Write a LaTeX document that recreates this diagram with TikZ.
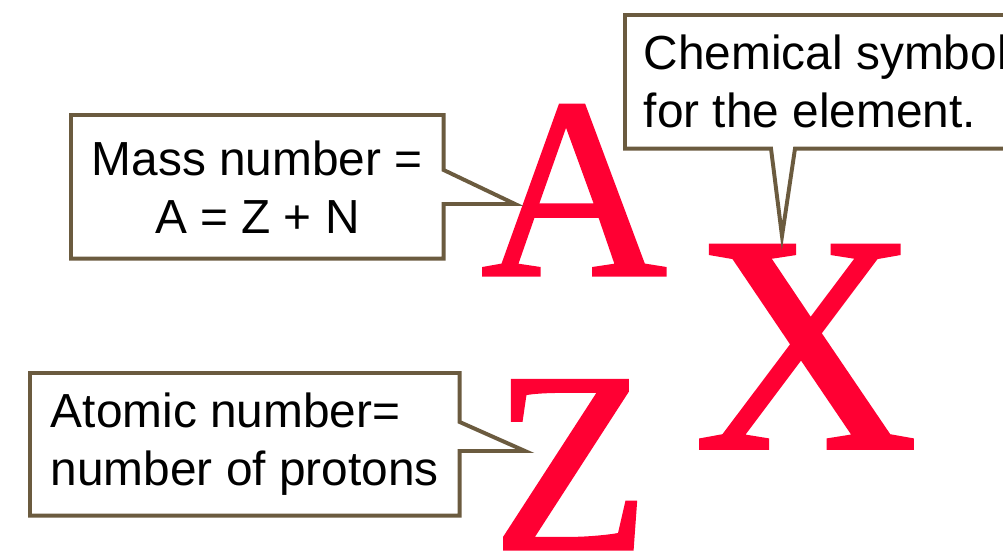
\documentclass[tikz,border=0pt]{standalone}
\usepackage{fontspec}
\setmainfont{Liberation Serif}
\setsansfont{Liberation Sans}
\newfontfamily\symbolfont[FakeBold=1.2]{Liberation Serif}
\usepackage{xcolor}
\usetikzlibrary{calc}
\definecolor{symbolred}{HTML}{FF0033}
\definecolor{calloutbrown}{HTML}{6B5B3F}

\tikzset{
  callbox/.style={
    inner sep=0pt,
    align=center,
    anchor=north west,
    font=\sffamily\fontsize{34}{41.25}\selectfont
  },
  callline/.style={draw=calloutbrown, line width=2.8pt},
  bigletter/.style={text=symbolred, inner sep=0pt, anchor=base}
}

\begin{document}
\begin{tikzpicture}[x=0.025cm, y=-0.025cm]
  \useasboundingbox (0,0) rectangle (1003,552);
  \clip (0,0) rectangle (1003,552);

  % nuclide symbol
  \node[bigletter, font=\symbolfont\fontsize{183}{183}\selectfont] (massA) at (574,275) {A};
  \node[bigletter, font=\symbolfont\fontsize{220}{220}\selectfont] (symX) at (806,448) {X};
  \node[bigletter, font=\symbolfont\fontsize{183}{183}\selectfont] (atomZ) at (571,549) {Z};

  % callouts
  \node[callbox, minimum width=9.3cm, minimum height=3.575cm] (mass) at (71,115)
    {Mass number =\\A = Z + N};
  \node[callbox, align=left, minimum width=10.025cm, minimum height=3.325cm] (chem) at (625,15)
    {Chemical symbol\\for the element.};
  \node[callbox, align=left, minimum width=10.725cm, minimum height=3.55cm] (atom) at (30,373)
    {Atomic number=\\number of protons};

  \coordinate (massTip) at (515,204);
  \coordinate (chemTip) at (782,236);
  \coordinate (atomTip) at (525,451);

  \draw[callline] (mass.north west) -- (mass.north east) -- ++(0,55) -- (massTip)
    -- (mass.east |- massTip) -- (mass.south east) -- (mass.south west) -- cycle;
  \draw[callline] (chem.north west) -- (chem.north east) -- (chem.south east)
    -- ($(chemTip |- chem.south)+(13,0)$) -- (chemTip)
    -- ($(chemTip |- chem.south)+(-11,0)$) -- (chem.south west) -- cycle;
  \draw[callline] (atom.north west) -- (atom.north east) -- ++(0,49) -- (atomTip)
    -- (atom.east |- atomTip) -- (atom.south east) -- (atom.south west) -- cycle;
\end{tikzpicture}
\end{document}
